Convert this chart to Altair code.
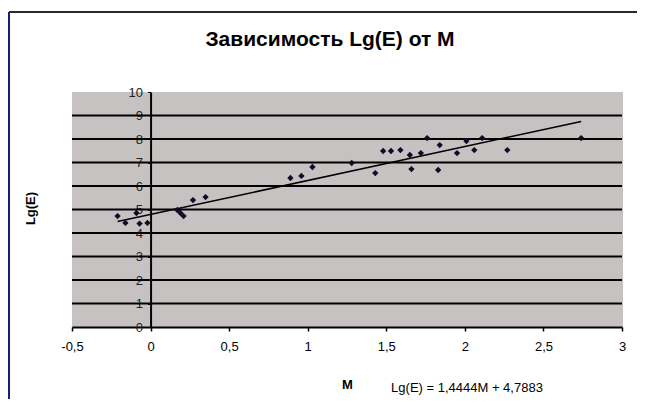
import altair as alt
import pandas as pd

title_text = "Зависимость Lg(E) от M"
x_title = "M"
y_title = "Lg(E)"
equation_text = "Lg(E) = 1,4444M + 4,7883"

m_values = [-0.21, -0.16, -0.09, -0.07, -0.02, 0.17, 0.19, 0.21, 0.27, 0.35,
            0.89, 0.96, 1.03, 1.28, 1.43, 1.48, 1.53, 1.59, 1.65, 1.66,
            1.72, 1.76, 1.84, 1.83, 1.95, 2.01, 2.06, 2.11, 2.27, 2.74]
lg_values = [4.72, 4.43, 4.85, 4.40, 4.43, 4.98, 4.85, 4.72, 5.40, 5.53,
             6.34, 6.43, 6.81, 6.98, 6.55, 7.49, 7.49, 7.53, 7.32, 6.72,
             7.40, 8.04, 7.74, 6.68, 7.40, 7.91, 7.53, 8.04, 7.53, 8.04]

trend_slope = 1.4444
trend_intercept = 4.7883
trend_m = [-0.21, 2.74]

x_ticks = [-0.5, 0, 0.5, 1, 1.5, 2, 2.5, 3]
y_ticks = [0, 1, 2, 3, 4, 5, 6, 7, 8, 9, 10]
grid_values = [1, 2, 3, 4, 5, 6, 7, 8, 9]

W, H = 550, 235
FONT = "Liberation Sans"
Y_AXIS_AT = W * 0.5 / 3.5  # pixel of M = 0

points_df = pd.DataFrame({"M": m_values, "Lg": lg_values})
trend_df = pd.DataFrame({"M": trend_m})
grid_df = pd.DataFrame({"g": grid_values})

xscale = alt.Scale(domain=[-0.5, 3], nice=False, zero=False)
yscale = alt.Scale(domain=[0, 10], nice=False)

x_axis = alt.Axis(
    values=x_ticks, title=x_title, grid=False,
    labelExpr="replace(toString(datum.value), '.', ',')",
    domainColor="black", domainWidth=2, tickColor="black", tickSize=4,
    tickWidth=1.5, labelPadding=9, labelFontSize=13, labelColor="black",
    labelFlush=False, labelOverlap=False,
    titleFontSize=13, titleFontWeight="bold", titleColor="black",
    titleY=57, titleBaseline="middle",
)
y_axis = alt.Axis(
    values=y_ticks, title=y_title, grid=False, offset=-Y_AXIS_AT,
    domainColor="black", domainWidth=2, tickColor="black", tickSize=3,
    labelPadding=5, labelFontSize=13, labelColor="#222222",
    labelOverlap=False, labelFlush=False,
    titleFontSize=13, titleFontWeight="bold", titleColor="black",
    titleAngle=270, titleX=-120, titleY=116, titleBaseline="middle",
)

points = alt.Chart(points_df).mark_point(
    shape="diamond", filled=True, size=40, color="#0c0c28", opacity=1
).encode(
    x=alt.X("M:Q", scale=xscale, axis=x_axis),
    y=alt.Y("Lg:Q", scale=yscale, axis=y_axis),
)

grid = alt.Chart(grid_df).mark_rule(color="black", strokeWidth=2.2).encode(
    y=alt.Y("g:Q", scale=yscale, axis=y_axis)
)

trend = alt.Chart(trend_df).transform_calculate(
    Lg=f"{trend_slope} * datum.M + {trend_intercept}"
).mark_line(color="black", strokeWidth=1.5).encode(
    x=alt.X("M:Q", scale=xscale, axis=x_axis),
    y=alt.Y("Lg:Q", scale=yscale, axis=y_axis),
)

text_df = pd.DataFrame({"t": [0]})
title_mark = alt.Chart(text_df).mark_text(
    text=title_text, fontSize=21, fontWeight="bold", color="black",
    align="center", baseline="middle"
).encode(x=alt.value(258), y=alt.value(-52))

equation = alt.Chart(text_df).mark_text(
    text=equation_text, fontSize=13, color="black", align="center", baseline="middle"
).encode(x=alt.value(395), y=alt.value(296))

frame_top = alt.Chart(text_df).mark_rule(
    color="#2a2a2a", strokeWidth=2
).encode(x=alt.value(-63), x2=alt.value(575), y=alt.value(-80))
frame_left = alt.Chart(text_df).mark_rule(
    color="#1c1c70", strokeWidth=2
).encode(x=alt.value(-63), y=alt.value(-80), y2=alt.value(310))

chart = alt.layer(grid, trend, points, title_mark, equation, frame_top, frame_left).properties(
    width=W, height=H,
    autosize=alt.AutoSizeParams(type="none"),
    padding={"left": 64, "top": 84, "right": 15, "bottom": 72},
    background="white",
).configure(font=FONT).configure_view(fill="#c6c2c2", stroke="#c6c2c2")

chart.save("out.html", embed_options={"renderer": "svg", "actions": False})
